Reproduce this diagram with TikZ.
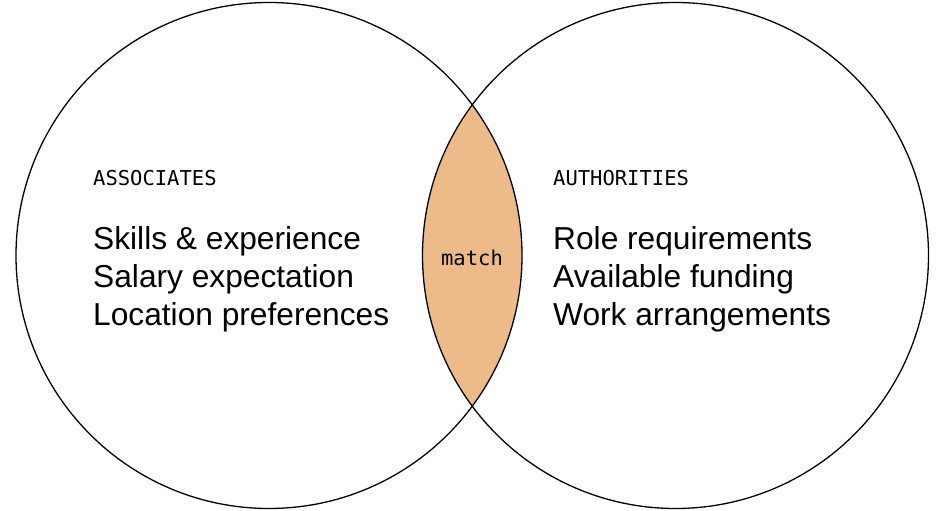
\documentclass[tikz,border=0pt]{standalone}
\usepackage{fontspec}
\setmainfont{Liberation Sans}
\newfontfamily\labelmono{DejaVu Sans Mono}
\usepackage{tikz}
\definecolor{lensorange}{RGB}{237,187,138}
\tikzset{
	headlabel/.style={anchor=base west, inner sep=0pt, font=\labelmono\fontsize{20.5}{20.5}\selectfont},
	itemlabel/.style={anchor=base west, inner sep=0pt, font=\fontsize{31.7}{31.7}\selectfont},
	vennline/.style={draw=black, line width=1.3pt}
}
\begin{document}
\begin{tikzpicture}[x=1pt,y=1pt]
	\useasboundingbox (0,0) rectangle (938,511);
	\coordinate (assoc) at (269,255.5);
	\coordinate (auth) at (675.5,255.5);
	
	% overlap of the two sets
	\begin{scope}
		\clip (assoc) circle (253);
		\fill[lensorange] (auth) circle (253);
	\end{scope}
	\draw[vennline] (assoc) circle (253);
	\draw[vennline] (auth) circle (253);
	
	\node[headlabel] (assochead) at (93,325) {ASSOCIATES};
	\node[itemlabel] (skills) at (93,261) {Skills \& experience};
	\node[itemlabel] (salary) at (93,223) {Salary expectation};
	\node[itemlabel] (location) at (93,185) {Location preferences};
	
	\node[headlabel] (authhead) at (553,325) {AUTHORITIES};
	\node[itemlabel] (role) at (553,261) {Role requirements};
	\node[itemlabel] (funding) at (553,223) {Available funding};
	\node[itemlabel] (work) at (553,185) {Work arrangements};
	
	\node[headlabel, anchor=base] (match) at (472,245) {match};
\end{tikzpicture}
\end{document}
